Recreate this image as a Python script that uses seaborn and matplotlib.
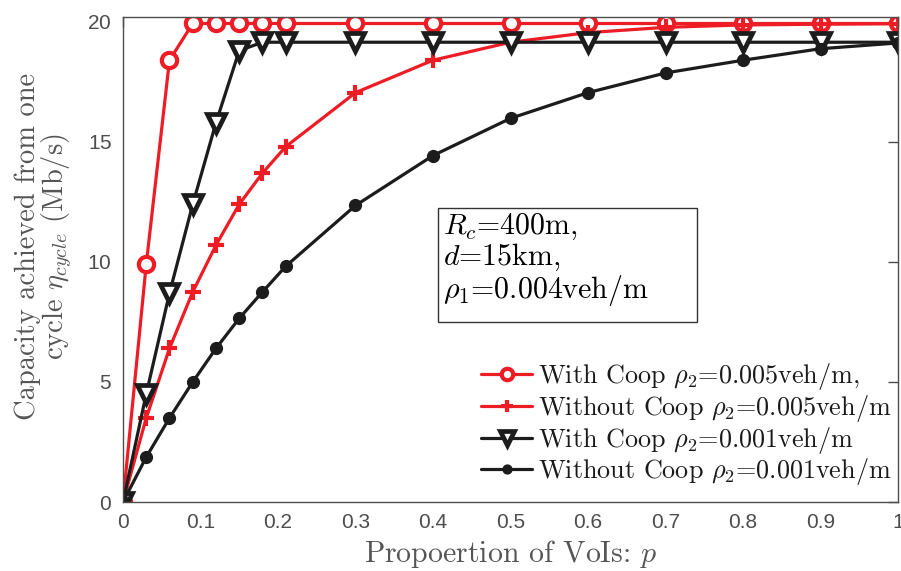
import numpy as np
import pandas as pd
import matplotlib
matplotlib.use("Agg")
import matplotlib.pyplot as plt
from matplotlib.patches import Rectangle
import seaborn as sns

# Proportion of VoIs
p = [0, 0.03, 0.06, 0.09, 0.12, 0.15, 0.18, 0.21, 0.3, 0.4, 0.5, 0.6, 0.7, 0.8, 0.9, 1.0]

# Capacity per cycle (Mb/s)
coop_005 = [0, 9.9, 18.4, 19.93, 19.93, 19.93, 19.93, 19.93, 19.93, 19.93, 19.93, 19.93, 19.93, 19.93, 19.93, 19.93]
nocoop_005 = [0, 3.5, 6.4, 8.75, 10.7, 12.4, 13.7, 14.8, 17.05, 18.4, 19.15, 19.55, 19.77, 19.87, 19.9, 19.92]
coop_001 = [0, 4.5, 8.7, 12.4, 15.8, 18.8, 19.15, 19.15, 19.15, 19.15, 19.15, 19.15, 19.15, 19.15, 19.15, 19.15]
nocoop_001 = [0, 1.87, 3.5, 5.0, 6.4, 7.65, 8.75, 9.82, 12.35, 14.43, 15.98, 17.05, 17.87, 18.4, 18.88, 19.12]

labels = [
    r"With Coop $\rho_2$=0.005veh/m,",
    r"Without Coop $\rho_2$=0.005veh/m",
    r"With Coop $\rho_2$=0.001veh/m",
    r"Without Coop $\rho_2$=0.001veh/m",
]
x_ticks = [0, 0.1, 0.2, 0.3, 0.4, 0.5, 0.6, 0.7, 0.8, 0.9, 1]
x_tick_labels = ["0", "0.1", "0.2", "0.3", "0.4", "0.5", "0.6", "0.7", "0.8", "0.9", "1"]
y_ticks = [0, 5, 10, 15, 20]

sns.set_theme(style="white")
plt.rcParams["mathtext.fontset"] = "cm"
plt.rcParams["axes.formatter.use_mathtext"] = True
plt.rcParams["font.family"] = ["Liberation Sans", "DejaVu Sans"]
SERIF = ["cmr10", "DejaVu Serif"]

RED = "#ee1c25"
BLACK = "#1c1c1c"
AX_COL = "#4d4d4d"

fig = plt.figure(figsize=(9.01, 5.71), dpi=100)
ax = fig.add_axes([0.1365, 0.1208, 0.8602, 0.8494])

series = [coop_005, nocoop_005, coop_001, nocoop_001]
styles = [
    dict(color=RED, marker="o", markersize=11, mfc="white", mec=RED, mew=3),
    dict(color=RED, marker="+", markersize=12, mec=RED, mew=3),
    dict(color=BLACK, marker="v", markersize=13, mfc="white", mec=BLACK, mew=3.4),
    dict(color=BLACK, marker="o", markersize=8.5, mfc=BLACK, mec=BLACK, mew=1),
]

for vals, lab, st in zip(series, labels, styles):
    df = pd.DataFrame({"p": p, "cap": vals})
    sns.lineplot(data=df, x="p", y="cap", ax=ax, lw=2.3, label=lab, **st)

ax.set_xlim(0, 1)
ax.set_ylim(0, 20.2)
ax.set_xticks(x_ticks)
ax.set_xticklabels(x_tick_labels)
ax.set_yticks(y_ticks)
ax.tick_params(axis="both", direction="in", length=7, width=1, color=AX_COL,
               labelcolor=AX_COL, labelsize=15, top=True, right=True, pad=8)
for sp in ax.spines.values():
    sp.set_color(AX_COL)
    sp.set_linewidth(1)

ax.set_xlabel(r"Propoertion of VoIs: $p$", fontsize=21.5, color="#555555",
              labelpad=4, family=SERIF)
ax.set_ylabel("Capacity achieved from one\ncycle $\\eta_{cycle}$ (Mb/s)",
              fontsize=20.5, color="#555555", linespacing=0.95, family=SERIF)
ax.yaxis.set_label_coords(-0.063, 0.526)

# parameter box
ax.add_patch(Rectangle((0.406, 0.371), 0.335, 0.235, transform=ax.transAxes,
                       facecolor="white", edgecolor="#333333", lw=1, zorder=5))
ax.text(0.413, 0.598,
        "$R_c$=400m,\n$d$=15km,\n$\\rho_1$=0.004veh/m",
        transform=ax.transAxes, fontsize=21.5, color="black", va="top", ha="left",
        linespacing=1.0, family=SERIF, zorder=6)

leg = ax.legend(loc="lower left", bbox_to_anchor=(0.462, 0.03),
                frameon=False, borderaxespad=0, borderpad=0,
                handlelength=1.95, handletextpad=0.25, labelspacing=0.03,
                markerscale=0.75, prop={"family": SERIF, "size": 18.8})
for t in leg.get_texts():
    t.set_color("#1a1a1a")

fig.savefig("out.png", dpi=100)
